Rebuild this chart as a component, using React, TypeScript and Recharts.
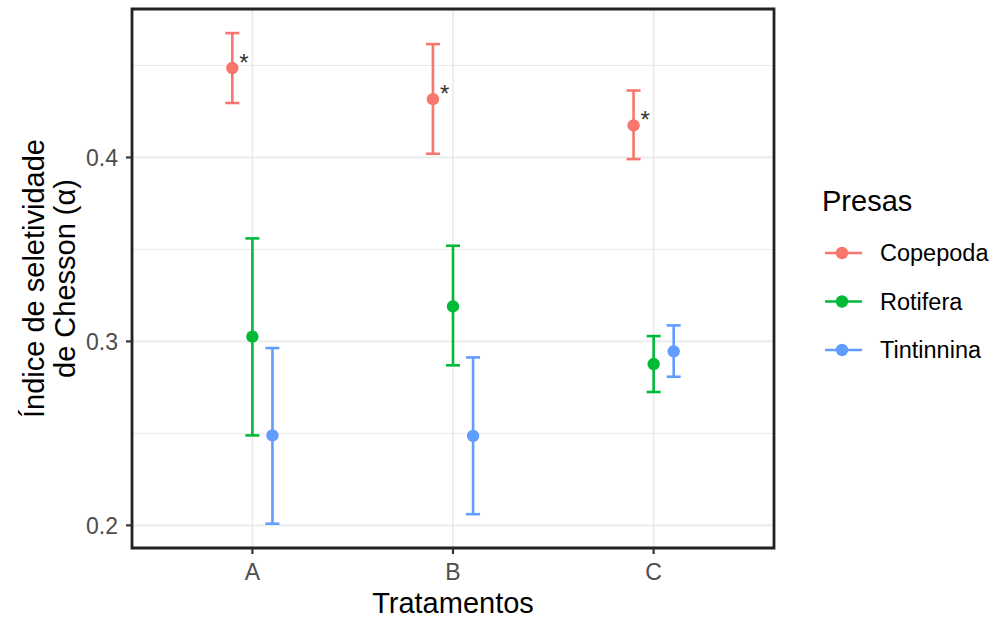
import {
  ScatterChart,
  Scatter,
  XAxis,
  YAxis,
  CartesianGrid,
  ErrorBar,
  Legend,
  ReferenceArea,
} from "recharts";

// Tratamentos (eixo x)
const tratamentos = ["A", "B", "C"];

// Copepoda
const copepodaMedia = [0.4486, 0.4317, 0.4174];
const copepodaInf = [0.4296, 0.402, 0.3991];
const copepodaSup = [0.4676, 0.4616, 0.4364];
const copepodaMarca = ["*", "*", "*"];

// Rotifera
const rotiferaMedia = [0.3026, 0.319, 0.2877];
const rotiferaInf = [0.2489, 0.287, 0.2725];
const rotiferaSup = [0.356, 0.352, 0.3029];

// Tintinnina
const tintinninaMedia = [0.2489, 0.2486, 0.2946];
const tintinninaInf = [0.2009, 0.2061, 0.2808];
const tintinninaSup = [0.2964, 0.2913, 0.3087];

const yTicks = [0.2, 0.3, 0.4];
const yMinor = [0.25, 0.35, 0.45];

const FONT = "'Liberation Sans', Arial, Helvetica, sans-serif";
const DODGE = 0.1;

const series = [
  { name: "Copepoda", color: "#F8766D", media: copepodaMedia, inf: copepodaInf, sup: copepodaSup, shift: -DODGE, marca: copepodaMarca },
  { name: "Rotifera", color: "#00BA38", media: rotiferaMedia, inf: rotiferaInf, sup: rotiferaSup, shift: 0, marca: null },
  { name: "Tintinnina", color: "#619CFF", media: tintinninaMedia, inf: tintinninaInf, sup: tintinninaSup, shift: DODGE, marca: null },
];

const buildData = (s: typeof series[number]) =>
  tratamentos.map((t, i) => ({
    trat: t,
    x: i + 1 + s.shift,
    y: s.media[i],
    err: [s.media[i] - s.inf[i], s.sup[i] - s.media[i]],
    marca: s.marca ? s.marca[i] : "",
  }));

const makeShape = (color: string) => (props: any) => {
  const { cx, cy, payload } = props;
  return (
    <g>
      <circle cx={cx} cy={cy} r={6.2} fill={color} />
      {payload && payload.marca ? (
        <text x={cx + 7} y={cy + 3} fontSize={24} fill="#333333" fontFamily={FONT}>
          {payload.marca}
        </text>
      ) : null}
    </g>
  );
};

const YTitle = (props: any) => {
  const vb = props.viewBox || { x: 0, y: 0, height: 0 };
  const cy = vb.y + vb.height / 2;
  return (
    <g transform={`translate(0, ${cy}) rotate(-90)`}>
      <text x={0} y={44} textAnchor="middle" fontSize={29} fill="#000" fontFamily={FONT}>
        Índice de seletividade
      </text>
      <text x={0} y={75} textAnchor="middle" fontSize={29} fill="#000" fontFamily={FONT}>
        de Chesson (α)
      </text>
    </g>
  );
};

const XTitle = (props: any) => {
  const vb = props.viewBox || { x: 0, y: 0, width: 0 };
  return (
    <text x={vb.x + vb.width / 2} y={vb.y + 65} textAnchor="middle" fontSize={29} fill="#000" fontFamily={FONT}>
      Tratamentos
    </text>
  );
};

const LegendaPresas = () => (
  <svg width={192} height={190}>
    <text x={12} y={31} fontSize={29} fill="#000" fontFamily={FONT}>
      Presas
    </text>
    {series.map((s, i) => {
      const cy = 73 + i * 48.5;
      return (
        <g key={s.name}>
          <line x1={15} x2={52} y1={cy} y2={cy} stroke={s.color} strokeWidth={2.6} />
          <circle cx={32} cy={cy} r={6.2} fill={s.color} />
          <text x={70} y={cy} dy="0.355em" fontSize={23.5} fill="#000" fontFamily={FONT}>
            {s.name}
          </text>
        </g>
      );
    })}
  </svg>
);

export default function App() {
  return (
    <div style={{ position: "absolute", left: 0, top: 0, background: "#fff", fontFamily: FONT }}>
      <ScatterChart width={1002} height={619} margin={{ top: 9, right: 36, bottom: 0, left: 0 }}>
        <CartesianGrid
          horizontalValues={yMinor}
          vertical={false}
          stroke="#EBEBEB"
          strokeWidth={1}
        />
        <CartesianGrid
          horizontalValues={yTicks}
          verticalValues={[1, 2, 3]}
          stroke="#EBEBEB"
          strokeWidth={1.8}
        />
        <XAxis
          type="number"
          dataKey="x"
          domain={[0.4, 3.6]}
          ticks={[1, 2, 3]}
          tickFormatter={(v: number) => tratamentos[Math.round(v) - 1]}
          allowDataOverflow
          height={71}
          axisLine={false}
          tickSize={6}
          tickMargin={10}
          tickLine={{ stroke: "#333333", strokeWidth: 2.2 }}
          tick={{ fill: "#4D4D4D", fontSize: 23 }}
          label={<XTitle />}
        />
        <YAxis
          type="number"
          dataKey="y"
          domain={[0.1877, 0.4807]}
          ticks={yTicks}
          tickFormatter={(v: number) => v.toFixed(1)}
          allowDataOverflow
          width={132}
          axisLine={false}
          tickSize={6}
          tickMargin={8}
          tickLine={{ stroke: "#333333", strokeWidth: 2.2 }}
          tick={{ fill: "#4D4D4D", fontSize: 23 }}
          label={<YTitle />}
        />
        {series.map((s) => (
          <Scatter
            key={s.name}
            name={s.name}
            data={buildData(s)}
            fill={s.color}
            shape={makeShape(s.color)}
            isAnimationActive={false}
          >
            <ErrorBar
              dataKey="err"
              direction="y"
              width={7}
              stroke={s.color}
              strokeWidth={2.6}
              isAnimationActive={false}
            />
          </Scatter>
        ))}
        <ReferenceArea
          x1={0.4}
          x2={3.6}
          y1={0.1877}
          y2={0.4807}
          fill="none"
          fillOpacity={0}
          stroke="#222222"
          strokeWidth={2.8}
          ifOverflow="visible"
        />
        <Legend
          layout="vertical"
          align="right"
          verticalAlign="middle"
          content={<LegendaPresas />}
          wrapperStyle={{ left: 810, top: 180, right: "auto", width: 192, height: 190 }}
        />
      </ScatterChart>
    </div>
  );
}
